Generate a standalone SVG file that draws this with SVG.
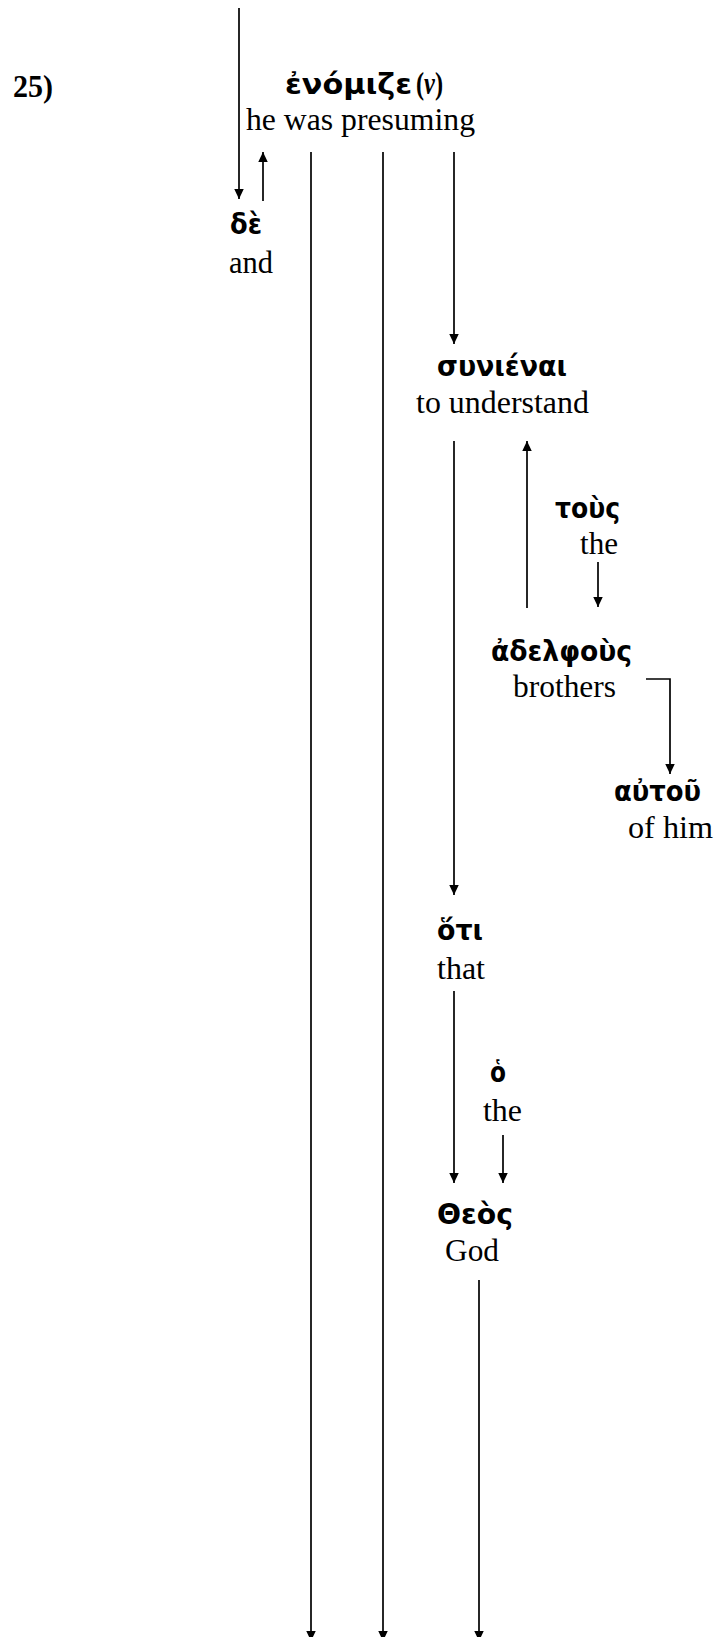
<svg xmlns="http://www.w3.org/2000/svg" width="716" height="1637" viewBox="0 0 716 1637">
  <style>
    .gk { font-family: "DejaVu Sans", "Noto Sans", sans-serif; font-weight: bold; font-size: 29px; fill: #000; }
    .en { font-family: "Liberation Serif", "Times New Roman", serif; font-size: 31.5px; fill: #000; }
    .num { font-family: "Liberation Serif", "Times New Roman", serif; font-weight: bold; font-size: 31px; fill: #000; }
    .edge { stroke: #000; stroke-width: 1.7; fill: none; }
    .arr { marker-end: url(#head); }
  </style>
  <defs>
    <marker id="head" markerUnits="userSpaceOnUse" markerWidth="11" markerHeight="10" refX="10" refY="4.75" orient="auto">
      <path d="M0,0 L10,4.75 L0,9.5 z" fill="#000"/>
    </marker>
  </defs>

  <text class="num" x="13" y="97" textLength="40" lengthAdjust="spacingAndGlyphs">25)</text>

  <!-- connectors -->
  <g id="connectors">
    <line class="edge arr" x1="239" y1="8" x2="239" y2="199"/>
    <line class="edge arr" x1="263" y1="201" x2="263" y2="152"/>
    <line class="edge arr" x1="311" y1="152" x2="311" y2="1641"/>
    <line class="edge arr" x1="383" y1="152" x2="383" y2="1641"/>
    <line class="edge arr" x1="454" y1="152" x2="454" y2="344"/>
    <line class="edge arr" x1="454" y1="441" x2="454" y2="895"/>
    <line class="edge arr" x1="527" y1="608" x2="527" y2="441"/>
    <line class="edge arr" x1="598" y1="562" x2="598" y2="607"/>
    <polyline class="edge arr" points="646,679 670,679 670,774"/>
    <line class="edge arr" x1="454" y1="991" x2="454" y2="1183"/>
    <line class="edge arr" x1="503" y1="1135" x2="503" y2="1183"/>
    <line class="edge arr" x1="479" y1="1280" x2="479" y2="1641"/>
  </g>

  <g id="enomize">
    <text class="gk" x="285" y="94" textLength="127" lengthAdjust="spacingAndGlyphs">ἐνόμιζε</text>
    <text class="en" x="416" y="94" font-weight="bold" textLength="27" lengthAdjust="spacingAndGlyphs">(<tspan font-style="italic">ν</tspan>)</text>
    <text class="en" x="246" y="130" textLength="229" lengthAdjust="spacingAndGlyphs">he was presuming</text>
  </g>

  <g id="de">
    <text class="gk" x="230" y="234" textLength="32" lengthAdjust="spacingAndGlyphs">δὲ</text>
    <text class="en" x="229" y="273" textLength="44" lengthAdjust="spacingAndGlyphs">and</text>
  </g>

  <g id="synienai">
    <text class="gk" x="437" y="376" textLength="130" lengthAdjust="spacingAndGlyphs">συνιέναι</text>
    <text class="en" x="416" y="413" textLength="173" lengthAdjust="spacingAndGlyphs">to understand</text>
  </g>

  <g id="tous">
    <text class="gk" x="555" y="518" textLength="65" lengthAdjust="spacingAndGlyphs">τοὺς</text>
    <text class="en" x="580" y="554" textLength="38" lengthAdjust="spacingAndGlyphs">the</text>
  </g>

  <g id="adelphous">
    <text class="gk" x="491" y="661" textLength="141" lengthAdjust="spacingAndGlyphs">ἀδελφοὺς</text>
    <text class="en" x="513" y="697" textLength="103" lengthAdjust="spacingAndGlyphs">brothers</text>
  </g>

  <g id="autou">
    <text class="gk" x="614" y="801" textLength="87" lengthAdjust="spacingAndGlyphs">αὐτοῦ</text>
    <text class="en" x="628" y="838" textLength="85" lengthAdjust="spacingAndGlyphs">of him</text>
  </g>

  <g id="hoti">
    <text class="gk" x="437" y="940" textLength="46" lengthAdjust="spacingAndGlyphs">ὅτι</text>
    <text class="en" x="437" y="979" textLength="48" lengthAdjust="spacingAndGlyphs">that</text>
  </g>

  <g id="ho">
    <text class="gk" x="490" y="1082" textLength="16" lengthAdjust="spacingAndGlyphs">ὁ</text>
    <text class="en" x="483" y="1121" textLength="39" lengthAdjust="spacingAndGlyphs">the</text>
  </g>

  <g id="theos">
    <text class="gk" x="437" y="1224" textLength="76" lengthAdjust="spacingAndGlyphs">Θεὸς</text>
    <text class="en" x="445" y="1261" textLength="54" lengthAdjust="spacingAndGlyphs">God</text>
  </g>
</svg>
